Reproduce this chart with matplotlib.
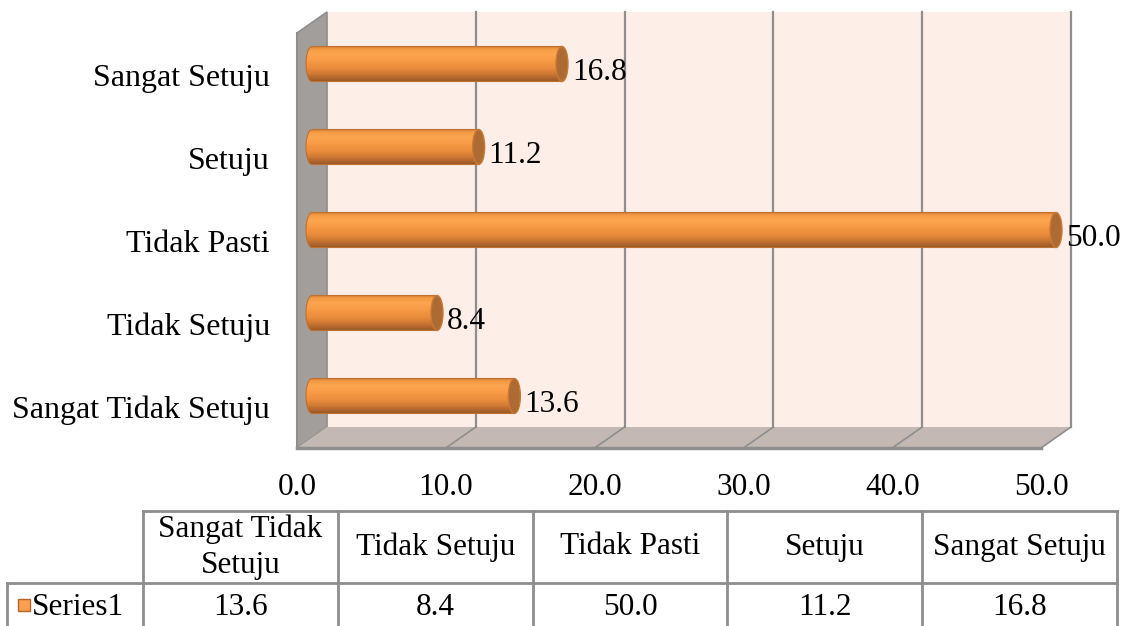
import textwrap
import numpy as np
import matplotlib
matplotlib.use("Agg")
import matplotlib.pyplot as plt
from matplotlib.patches import Polygon, Rectangle, Ellipse
from matplotlib.colors import LinearSegmentedColormap
from matplotlib.transforms import offset_copy

# -------------------------
# Data
# -------------------------
categories = ["Sangat Tidak Setuju", "Tidak Setuju", "Tidak Pasti", "Setuju", "Sangat Setuju"]
values = [13.6, 8.4, 50.0, 11.2, 16.8]
x_ticks = [0, 10, 20, 30, 40, 50]
series_name = "Series1"

# -------------------------
# Style
# -------------------------
plt.rcParams["font.family"] = ["Liberation Serif", "DejaVu Serif"]
FS = 22.5
WALL_BACK = "#FDEEE8"
WALL_SIDE = "#A29E9C"
FLOOR = "#C3B8B4"
GRID = "#8E8E8E"

# cylinder shading, bottom -> top
cyl_cmap = LinearSegmentedColormap.from_list("cyl", [
    (0.00, "#8F5426"), (0.12, "#B8692E"), (0.35, "#E5893A"),
    (0.60, "#F89A45"), (0.80, "#FCA550"), (0.93, "#F39944"), (1.00, "#C8782F")])

fig = plt.figure(figsize=(11.38, 6.26), dpi=100)
W, H = 1138, 626

# back plane of the 3D box, in pixels
bx0, bx1, by_top, by_bot = 327, 1071, 12, 427
ax = fig.add_axes([bx0 / W, (H - by_bot) / H, (bx1 - bx0) / W, (by_bot - by_top) / H])
ax.set_xlim(0, 50)
ax.set_ylim(-0.5, len(categories) - 0.5)
ax.axis("off")

# depth of the box in data units (30 px left, 21 px down)
px_x = (bx1 - bx0) / 50.0
px_y = (by_bot - by_top) / len(categories)
DX = -30 / px_x
DY = -21 / px_y
y0, y1 = -0.5, len(categories) - 0.5
xmax = x_ticks[-1]

# -------------------------
# Walls and floor
# -------------------------
ax.add_patch(Rectangle((0, y0), xmax, y1 - y0, facecolor=WALL_BACK, edgecolor="none", clip_on=False, zorder=1))
ax.add_patch(Polygon([(0, y0), (0, y1), (DX, y1 + DY), (DX, y0 + DY)], closed=True,
                     facecolor=WALL_SIDE, edgecolor=GRID, lw=1.2, clip_on=False, zorder=2))
ax.add_patch(Polygon([(0, y0), (xmax, y0), (xmax + DX, y0 + DY), (DX, y0 + DY)], closed=True,
                     facecolor=FLOOR, edgecolor="none", clip_on=False, zorder=2))

for v in x_ticks[1:]:
    ax.plot([v, v], [y0, y1], color=GRID, lw=1.6, clip_on=False, zorder=3)
    ax.plot([v, v + DX], [y0, y0 + DY], color=GRID, lw=1.2, clip_on=False, zorder=3)
ax.plot([DX, xmax + DX], [y0 + DY, y0 + DY], color=GRID, lw=2.5, clip_on=False, zorder=3)
ax.plot([DX, DX], [y0 + DY, y1 + DY], color=GRID, lw=1.5, clip_on=False, zorder=3)

# -------------------------
# Cylinder bars (mid depth)
# -------------------------
bar_h = 35 / px_y
cap_w = 12 / px_x
mx, my = DX / 2, DY / 2
n_strips = 40
for i, v in enumerate(values):
    yc = i + my
    th = np.linspace(np.pi / 2, 3 * np.pi / 2, 40)
    pts = [(mx + cap_w / 2 * np.cos(t), yc + bar_h / 2 * np.sin(t)) for t in th]
    pts += [(v + mx, yc - bar_h / 2), (v + mx, yc + bar_h / 2)]
    clip = Polygon(pts, closed=True, facecolor="none", edgecolor="#C0712E", lw=0.8,
                   clip_on=False, zorder=6)
    ax.add_patch(clip)
    edges = np.linspace(yc - bar_h / 2, yc + bar_h / 2, n_strips + 1)
    for k in range(n_strips):
        b = ax.barh(edges[k], v + cap_w, left=mx - cap_w / 2, height=edges[k + 1] - edges[k],
                    align="edge", color=cyl_cmap((k + 0.5) / n_strips), lw=0, zorder=5)
        for r in b:
            r.set_clip_box(None)
            r.set_clip_path(clip)
    ax.add_patch(Ellipse((v + mx, yc), cap_w, bar_h, facecolor="#AD6A33", edgecolor="#C77A38",
                         lw=1.0, clip_on=False, zorder=7))
    t = offset_copy(ax.transData, fig=fig, x=10, y=-16, units="dots")
    ax.text(v + mx, yc, f"{v:.1f}", transform=t, ha="left", va="baseline", fontsize=FS, zorder=8)

# category labels on the front plane
for i, c in enumerate(categories):
    t = offset_copy(ax.transData, fig=fig, x=-27, y=-11.5, units="dots")
    ax.text(DX, i + DY, c, transform=t, ha="right", va="baseline", fontsize=FS + 0.5)

# value axis labels under the front edge
for v in x_ticks:
    t = offset_copy(ax.transData, fig=fig, x=0, y=-47, units="dots")
    ax.text(v + DX, y0 + DY, f"{v:.1f}", transform=t, ha="center", va="baseline", fontsize=FS)

# -------------------------
# Data table
# -------------------------
tx0, tx1, ty_top, ty_mid = 143, 1117, 511, 583
tax = fig.add_axes([tx0 / W, 0, (tx1 - tx0) / W, (H - ty_top) / H])
ncol = len(categories)
row_h = ty_mid - ty_top
hdr_w = (tx0 - 7) / ((tx1 - tx0) / ncol)
tax.set_xlim(0, ncol)
tax.set_ylim(-(H - ty_mid) / row_h, 1)
tax.axis("off")

tax.plot([0, ncol], [1, 1], color=GRID, lw=2, clip_on=False)
tax.plot([-hdr_w, ncol], [0, 0], color=GRID, lw=2, clip_on=False)
tax.plot([-hdr_w, -hdr_w], [0, -1], color=GRID, lw=2, clip_on=False)
for k in range(ncol + 1):
    tax.plot([k, k], [1, -1], color=GRID, lw=2, clip_on=False)

for k, (c, v) in enumerate(zip(categories, values)):
    tax.text(k + 0.5, 0.5, textwrap.fill(c, 13), ha="center", va="center", fontsize=FS,
             linespacing=1.3)
    tax.text(k + 0.5, -32 / row_h, f"{v:.1f}", ha="center", va="baseline", fontsize=FS)

tax.plot([-hdr_w + 0.085], [-22 / row_h], marker="s", markersize=8.5, color="#F9A04F",
         markeredgecolor="#B4652B", markeredgewidth=1.0, clip_on=False)
tax.text(-hdr_w + 0.13, -32 / row_h, series_name, ha="left", va="baseline", fontsize=FS)

fig.savefig("out.png", dpi=100)
